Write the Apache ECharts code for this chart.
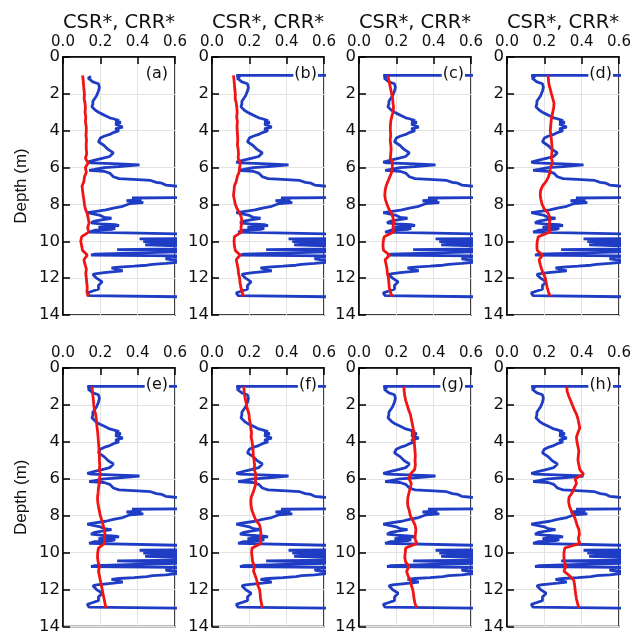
<!DOCTYPE html>
<html>
<head>
<meta charset="utf-8">
<script src="https://cdn.jsdelivr.net/npm/echarts@6/dist/echarts.min.js"></script>
<style>html,body{margin:0;padding:0;background:#fff;}#chart{width:634px;height:635px;}</style>
</head>
<body>
<div id="chart"></div>
<script>
// ---- Data ----
const panelLabels = ['(a)','(b)','(c)','(d)','(e)','(f)','(g)','(h)'];
const xTicks = [0, 0.2, 0.4, 0.6];
const yTicks = [0, 2, 4, 6, 8, 10, 12, 14];

// CRR* profile (blue), depth in m
const depthCRR = [1.05,1.15,1.25,1.35,1.45,1.55,1.65,1.75,1.85,1.95,2.10,2.25,2.40,2.55,2.70,2.80,2.90,3.00,3.10,3.20,3.30,3.35,3.45,3.50,3.55,3.65,3.75,3.80,3.90,4.00,4.10,4.20,4.30,4.40,4.50,4.60,4.70,4.80,4.90,5.00,5.10,5.20,5.30,5.40,5.50,5.60,5.70,5.75,5.80,5.85,5.90,5.95,6.00,6.10,6.15,6.20,6.30,6.40,6.50,6.60,6.65,6.70,6.80,6.85,6.90,6.95,7.00,7.03,7.62,7.65,7.70,7.75,7.80,7.85,7.90,7.95,8.00,8.10,8.20,8.30,8.40,8.45,8.50,8.60,8.70,8.75,8.80,8.85,8.90,9.00,9.05,9.10,9.15,9.20,9.25,9.30,9.35,9.40,9.50,9.55,9.60,9.62,9.85,9.87,9.92,9.95,10.00,10.02,10.07,10.10,10.18,10.20,10.25,10.28,10.40,10.45,10.50,10.55,10.65,10.70,10.75,10.80,10.85,10.95,11.00,11.05,11.15,11.20,11.25,11.30,11.35,11.40,11.45,11.50,11.55,11.60,11.65,11.70,11.75,11.80,11.90,12.00,12.10,12.20,12.30,12.40,12.50,12.60,12.70,12.80,12.90,12.95,13.00,13.02];
const crr = [0.15,0.135,0.14,0.16,0.19,0.20,0.195,0.20,0.19,0.185,0.18,0.17,0.16,0.16,0.155,0.16,0.175,0.19,0.21,0.23,0.25,0.27,0.30,0.28,0.31,0.28,0.29,0.32,0.28,0.30,0.27,0.25,0.22,0.20,0.19,0.19,0.20,0.22,0.22,0.24,0.25,0.27,0.27,0.25,0.21,0.17,0.13,0.15,0.30,0.41,0.40,0.30,0.22,0.17,0.14,0.22,0.25,0.26,0.27,0.30,0.40,0.47,0.50,0.53,0.52,0.55,0.60,0.70,0.70,0.37,0.36,0.42,0.34,0.40,0.43,0.36,0.37,0.32,0.27,0.23,0.16,0.13,0.14,0.20,0.22,0.26,0.25,0.20,0.17,0.15,0.20,0.28,0.30,0.22,0.19,0.28,0.26,0.17,0.14,0.13,0.13,0.70,0.70,0.41,0.42,0.70,0.70,0.43,0.44,0.70,0.70,0.44,0.45,0.70,0.70,0.29,0.30,0.70,0.70,0.17,0.15,0.70,0.57,0.55,0.58,0.70,0.70,0.55,0.48,0.45,0.38,0.30,0.26,0.25,0.26,0.32,0.33,0.22,0.18,0.16,0.17,0.18,0.19,0.21,0.20,0.19,0.18,0.19,0.16,0.13,0.13,0.14,0.15,0.70];
// top horizontal segment of CRR* in panels (b)-(h)
const crrTopDepth = [1.0, 1.0];
const crrTopValue = [0.70, 0.13];

// CSR* profiles (red)
const depthCSR = [1.00,1.25,1.50,1.75,2.00,2.25,2.50,2.75,3.00,3.25,3.50,3.75,4.00,4.25,4.50,4.75,5.00,5.25,5.50,5.75,6.00,6.25,6.50,6.75,7.00,7.25,7.50,7.75,8.00,8.25,8.50,8.75,9.00,9.25,9.50,9.75,10.00,10.25,10.50,10.75,11.00,11.25,11.50,11.75,12.00,12.25,12.50,12.75,13.00];
const csrA = [0.105,0.108,0.110,0.112,0.115,0.113,0.118,0.120,0.118,0.122,0.120,0.124,0.125,0.123,0.126,0.124,0.125,0.127,0.120,0.135,0.120,0.125,0.115,0.112,0.102,0.105,0.108,0.112,0.115,0.120,0.130,0.135,0.140,0.132,0.138,0.100,0.095,0.100,0.105,0.130,0.112,0.118,0.125,0.122,0.125,0.127,0.130,0.128,0.135];
const csrB = [0.115,0.118,0.120,0.122,0.125,0.124,0.130,0.133,0.135,0.132,0.136,0.134,0.135,0.137,0.138,0.136,0.140,0.142,0.140,0.152,0.148,0.145,0.135,0.130,0.120,0.118,0.115,0.120,0.125,0.135,0.150,0.158,0.160,0.155,0.158,0.120,0.118,0.120,0.125,0.150,0.130,0.135,0.140,0.142,0.148,0.150,0.155,0.160,0.170];
const csrC = [0.155,0.160,0.165,0.170,0.175,0.180,0.182,0.185,0.182,0.175,0.170,0.168,0.168,0.170,0.167,0.170,0.172,0.170,0.168,0.180,0.178,0.175,0.165,0.155,0.145,0.140,0.138,0.142,0.150,0.160,0.175,0.183,0.186,0.182,0.185,0.135,0.130,0.128,0.132,0.165,0.140,0.145,0.150,0.152,0.158,0.160,0.162,0.168,0.177];
const csrD = [0.220,0.222,0.225,0.232,0.238,0.245,0.252,0.250,0.245,0.240,0.236,0.234,0.232,0.235,0.238,0.240,0.242,0.240,0.238,0.245,0.232,0.230,0.222,0.210,0.190,0.180,0.178,0.182,0.188,0.200,0.222,0.230,0.228,0.225,0.230,0.168,0.162,0.160,0.162,0.190,0.172,0.178,0.185,0.195,0.205,0.210,0.215,0.222,0.232];
const csrE = [0.155,0.158,0.160,0.163,0.165,0.168,0.175,0.178,0.180,0.183,0.186,0.188,0.190,0.192,0.193,0.195,0.195,0.197,0.195,0.200,0.195,0.194,0.190,0.188,0.185,0.186,0.190,0.195,0.200,0.208,0.215,0.220,0.225,0.222,0.222,0.190,0.186,0.185,0.188,0.195,0.190,0.195,0.200,0.205,0.210,0.215,0.220,0.225,0.230];
const csrF = [0.170,0.172,0.175,0.180,0.185,0.190,0.198,0.200,0.205,0.208,0.212,0.210,0.215,0.218,0.220,0.222,0.225,0.228,0.226,0.235,0.232,0.235,0.228,0.220,0.210,0.208,0.210,0.215,0.225,0.235,0.255,0.260,0.262,0.258,0.262,0.215,0.212,0.215,0.218,0.228,0.222,0.232,0.240,0.245,0.255,0.258,0.260,0.265,0.270];
const csrG = [0.240,0.242,0.245,0.250,0.258,0.265,0.275,0.280,0.285,0.290,0.292,0.290,0.295,0.298,0.300,0.302,0.300,0.302,0.298,0.275,0.268,0.280,0.275,0.268,0.262,0.260,0.262,0.270,0.275,0.288,0.300,0.305,0.302,0.300,0.310,0.250,0.248,0.245,0.250,0.268,0.255,0.262,0.275,0.280,0.288,0.292,0.295,0.300,0.310];
const csrH = [0.320,0.322,0.330,0.340,0.350,0.360,0.372,0.380,0.385,0.390,0.380,0.372,0.375,0.380,0.385,0.382,0.380,0.385,0.390,0.410,0.365,0.372,0.360,0.350,0.332,0.330,0.335,0.345,0.358,0.368,0.375,0.385,0.388,0.382,0.390,0.310,0.305,0.305,0.308,0.315,0.305,0.335,0.358,0.362,0.365,0.368,0.372,0.378,0.385];
const csrAll = [csrA, csrB, csrC, csrD, csrE, csrF, csrG, csrH];

// ---- Layout ----
const colLeft = [63, 212, 359, 507];
const gridW = 112;
const rowTop = [57, 368];
const rowH = [258, 260];
const BLUE = '#1f3cc4';
const RED = '#f01414';
const TXT = '#111';

const grids = [], xAxes = [], yAxes = [], series = [], titles = [];
for (let i = 0; i < 8; i++) {
  const r = Math.floor(i / 4), c = i % 4;
  grids.push({left: colLeft[c], top: rowTop[r], width: gridW, height: rowH[r],
    show: true, borderColor: '#000', borderWidth: 1.5, backgroundColor: 'transparent'});
  xAxes.push({
    gridIndex: i, type: 'value', position: 'top', min: xTicks[0], max: xTicks[xTicks.length-1], interval: 0.2,
    name: r === 0 ? 'CSR*, CRR*' : '', nameLocation: 'middle', nameGap: 24,
    nameTextStyle: {fontFamily: 'DejaVu Sans', fontSize: 19.5, color: TXT},
    axisLine: {show: true, lineStyle: {color: '#000', width: 1.5}},
    axisTick: {show: true, inside: true, length: 7, lineStyle: {color: '#000', width: 1.5}},
    axisLabel: {show: true, margin: 7, fontFamily: 'DejaVu Sans', fontSize: 15, color: TXT,
      formatter: v => v.toFixed(1)},
    splitLine: {show: true, lineStyle: {color: '#e2e2e2', width: 1}}
  });
  yAxes.push({
    gridIndex: i, type: 'value', inverse: true, min: yTicks[0], max: yTicks[yTicks.length-1], interval: 2,
    name: c === 0 ? 'Depth (m)' : '', nameLocation: 'middle', nameGap: 33,
    nameTextStyle: {fontFamily: 'Liberation Sans', fontSize: 17, color: TXT},
    axisLine: {show: true, lineStyle: {color: '#000', width: 1.5}},
    axisTick: {show: true, inside: true, length: 7, lineStyle: {color: '#000', width: 1.5}},
    axisLabel: {show: true, margin: 3, fontFamily: 'DejaVu Sans', fontSize: 16.5, color: TXT},
    splitLine: {show: true, lineStyle: {color: '#e2e2e2', width: 1}}
  });
  let blue = [];
  if (i > 0) {
    for (let k = 0; k < crrTopDepth.length; k++) blue.push([crrTopValue[k], crrTopDepth[k]]);
  }
  for (let k = 0; k < depthCRR.length; k++) blue.push([crr[k], depthCRR[k]]);
  const red = depthCSR.map((d, k) => [csrAll[i][k], d]);
  series.push({type: 'line', xAxisIndex: i, yAxisIndex: i, data: blue, showSymbol: false,
    lineStyle: {color: BLUE, width: 2.8}, z: 2, clip: true});
  series.push({type: 'line', xAxisIndex: i, yAxisIndex: i, data: red, showSymbol: false,
    lineStyle: {color: RED, width: 2.8}, z: 3, clip: true});
  titles.push({text: panelLabels[i], right: 634 - (colLeft[c] + gridW - 6), top: rowTop[r] + 8,
    padding: [1, 1], backgroundColor: '#fff',
    textStyle: {fontFamily: 'DejaVu Sans', fontSize: 16, fontWeight: 'normal', color: TXT}});
}

const chart = echarts.init(document.getElementById('chart'), null, {renderer: 'canvas'});
chart.setOption({
  animation: false,
  backgroundColor: '#fff',
  title: titles,
  grid: grids, xAxis: xAxes, yAxis: yAxes, series: series
});
</script>
</body>
</html>
